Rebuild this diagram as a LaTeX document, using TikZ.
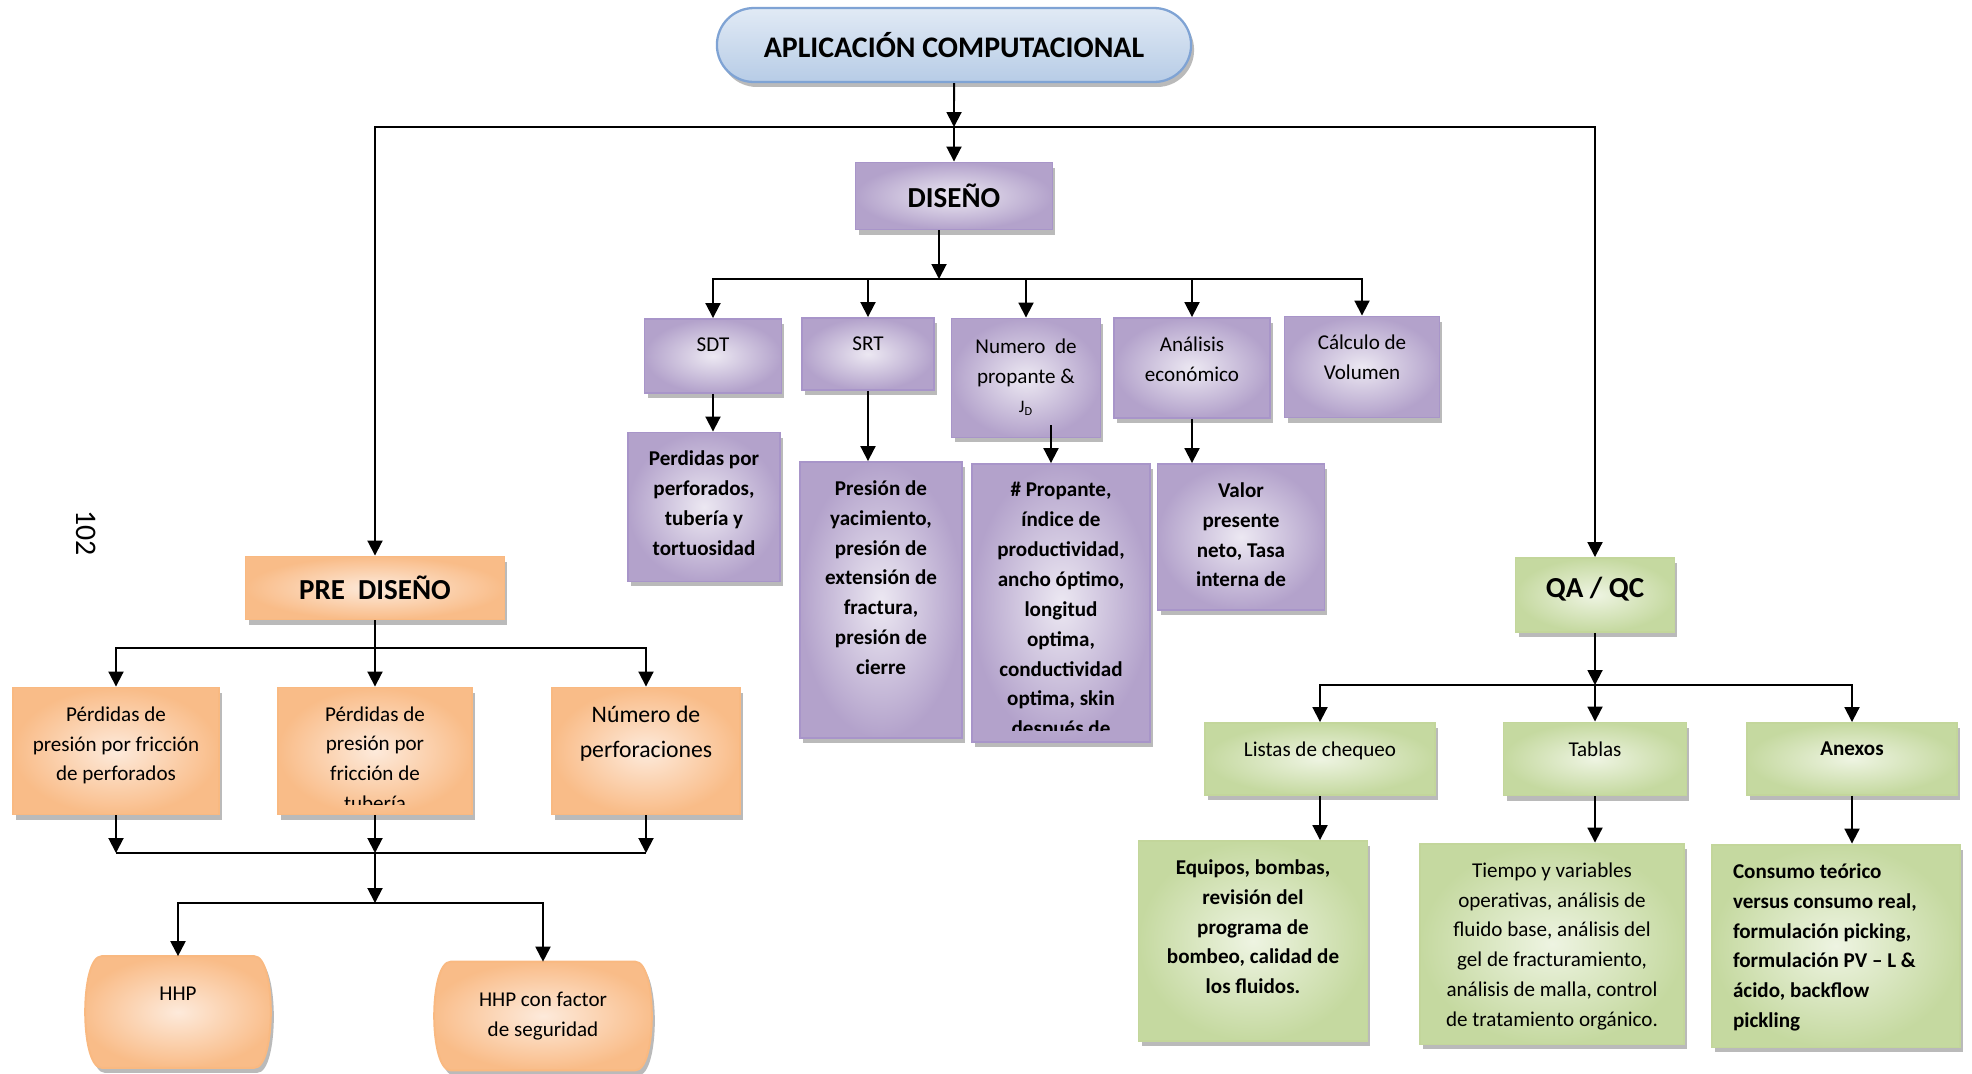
\documentclass[tikz,border=0pt]{standalone}
\usepackage{fontspec}
\setmainfont{Carlito}
\usepackage{tikz}
\usetikzlibrary{arrows.meta,positioning,shadows,shapes.misc,backgrounds}

\definecolor{pdark}{HTML}{B3A2CB}
\definecolor{plight}{HTML}{ECE8F2}
\definecolor{pline}{HTML}{A895C9}
\definecolor{odark}{HTML}{F9BC88}
\definecolor{olight}{HTML}{FDEADB}
\definecolor{oline}{HTML}{F9B981}
\definecolor{gdark}{HTML}{C5D9A0}
\definecolor{glight}{HTML}{EEF4E2}
\definecolor{gline}{HTML}{C3D69B}
\definecolor{bdark}{HTML}{B7CCE6}
\definecolor{blight}{HTML}{E1EAF5}
\definecolor{bline}{HTML}{7FA3D4}

% text block of fixed size, set from the top
\newcommand{\boxtext}[4][0.37cm]{\parbox[c][#3][t]{#2}{\centering\vspace*{#1}#4}}

\begin{document}
\begin{tikzpicture}[x=0.02cm, y=-0.02cm,
    box/.style={rectangle, inner sep=0pt, line width=1.1pt, drop shadow={shadow xshift=0.06cm, shadow yshift=-0.1cm, fill=black!45, opacity=.6}},
    pbox/.style={box, draw=pline, inner color=plight, outer color=pdark},
    obox/.style={box, draw=oline, inner color=olight, outer color=odark},
    gbox/.style={box, draw=gline, inner color=glight, outer color=gdark},
    hhpbox/.style={rectangle, inner sep=0pt},
    txt/.style={font=\fontsize{12}{17}\selectfont},
    txtb/.style={font=\fontsize{12}{17}\selectfont\bfseries},
    head/.style={font=\fontsize{16.5}{20}\selectfont\bfseries},
    arr/.style={-{Triangle[length=0.3cm,width=0.3cm]}, line width=1.1pt},
    ln/.style={line width=1.1pt},
  ]
    \useasboundingbox (0,0) rectangle (1972,1073);

    % Page number
    \node[font=\fontsize{17}{20}\selectfont, rotate=-90] (pnum) at (86,533) {102};

    % Top
    \node[rounded rectangle, draw=bline, line width=1.3pt, top color=blight, bottom color=bdark, minimum width=9.72cm, minimum height=1.48cm, drop shadow={shadow xshift=0.06cm, shadow yshift=-0.1cm, fill=black!45, opacity=.6}, head, font=\fontsize{17}{20}\selectfont\bfseries] (app) at (954,45) {APLICACIÓN COMPUTACIONAL};
    \node[pbox, head, minimum width=3.94cm, minimum height=1.34cm] (dis) at (954,196) {DISEÑO};
    \node[obox, head, minimum width=5.18cm, minimum height=1.26cm] (pre) at (375,588) {PRE\ \ DISEÑO};
    \node[gbox, head, minimum width=3.18cm, minimum height=1.48cm, text depth=0.3cm] (qa) at (1595,595) {QA / QC};

    % Design row
    \node[pbox, txt] (sdt) at (713,356) {\boxtext{2.74cm}{1.48cm}{SDT}};
    \node[pbox, txt] (srt) at (868,354) {\boxtext{2.64cm}{1.44cm}{SRT}};
    \node[pbox, txt] (num) at (1026,378) {\boxtext[0.40cm]{2.98cm}{2.38cm}{Numero\ \ de\\propante \&\\{\fontsize{10}{12}\selectfont J\textsubscript{D}}}};
    \node[pbox, txt] (ana) at (1192,368) {\boxtext{3.12cm}{2.00cm}{Análisis\\económico}};
    \node[pbox, txt] (cal) at (1362,367) {\boxtext{3.10cm}{2.02cm}{Cálculo de\\Volumen}};

    % Design results
    \node[pbox, txtb] (perd) at (704,507) {\boxtext{3.04cm}{2.98cm}{Perdidas por\\perforados,\\tubería y\\tortuosidad}};
    \node[pbox, txtb] (pres) at (881,600) {\boxtext{3.24cm}{5.52cm}{Presión de\\yacimiento,\\presión de\\extensión de\\fractura,\\presión de\\cierre}};
    \node[pbox, minimum width=3.56cm, minimum height=5.56cm] (prop) at (1061,603) {};
    \begin{scope}
      \clip ([yshift=0.25cm]prop.south west) rectangle (prop.north east);
      \node[txtb, anchor=north, align=flush center, text width=3.4cm, inner sep=0pt] (proptxt) at ([yshift=-0.38cm]prop.north) {\# Propante,\\índice de\\productividad,\\ancho óptimo,\\longitud\\optima,\\conductividad\\optima, skin\\después de};
    \end{scope}
    \node[pbox, txtb] (val) at (1241,537) {\boxtext{3.34cm}{2.92cm}{Valor\\presente\\neto, Tasa\\interna de}};

    % Pre design row
    \node[obox, txt] (o1) at (116,751) {\boxtext[0.38cm]{4.12cm}{2.54cm}{Pérdidas de\\presión por fricción\\de perforados}};
    \node[obox, minimum width=3.88cm, minimum height=2.54cm] (o2) at (375,751) {};
    \begin{scope}
      \clip ([yshift=0.22cm]o2.south west) rectangle (o2.north east);
      \node[txt, anchor=north, align=flush center, text width=3.7cm, inner sep=0pt] (o2txt) at ([yshift=-0.39cm]o2.north) {Pérdidas de\\presión por\\fricción de\\tubería};
    \end{scope}
    \node[obox, font=\fontsize{13.5}{19.5}\selectfont] (o3) at (646,751) {\boxtext[0.38cm]{3.76cm}{2.54cm}{Número de\\perforaciones}};

    \node[hhpbox, txt] (hhp) at (178,1012) {\boxtext[0.61cm]{3.04cm}{2.22cm}{HHP}};
    \node[hhpbox, txt] (hhpf) at (543,1016) {\boxtext[0.61cm]{3.68cm}{2.16cm}{HHP con factor\\de seguridad}};
    \begin{scope}[on background layer]
      \foreach \n in {hhp,hhpf}
        \path[obox] (\n.north west) -- (\n.north east) .. controls +(22,0) and +(22,0) .. (\n.south east) -- (\n.south west) .. controls +(-22,0) and +(-22,0) .. (\n.north west) -- cycle;
    \end{scope}

    % QA / QC row
    \node[gbox, txt] (lis) at (1320,759) {\boxtext[0.38cm]{4.60cm}{1.44cm}{Listas de chequeo}};
    \node[gbox, txt] (tab) at (1595,759) {\boxtext[0.38cm]{3.66cm}{1.46cm}{Tablas}};
    \node[gbox, txtb] (anx) at (1852,759) {\boxtext[0.38cm]{4.20cm}{1.44cm}{Anexos}};
    \node[gbox, txtb] (equ) at (1253,941) {\boxtext{4.58cm}{4.00cm}{Equipos, bombas,\\revisión del\\programa de\\bombeo, calidad de\\los fluidos.}};
    \node[gbox, txt] (tie) at (1552,944) {\boxtext[0.38cm]{5.28cm}{4.02cm}{Tiempo y variables\\operativas, análisis de\\fluido base, análisis del\\gel de fracturamiento,\\análisis de malla, control\\de tratamiento orgánico.}};
    \node[gbox, txtb] (con) at (1836,946) {\boxtext[0.38cm]{4.96cm}{4.06cm}{\raggedright\leftskip=0.42cm Consumo teórico\\versus consumo real,\\formulación picking,\\formulación PV – L \&\\ácido, backflow\\pickling}};

    % Junctions
    \coordinate (j1) at (954,127);
    \coordinate (j2) at (939,279);
    \coordinate (j3) at (375,648);
    \coordinate (j4) at (375,853);
    \coordinate (j5) at (375,903);
    \coordinate (j6) at (1595,685);

    % Connectors
    \draw[arr] (app) -- (j1);
    \draw[arr] (j1) -- (dis);
    \draw[arr] (j1) -| (pre);
    \draw[arr] (j1) -| (qa);

    \draw[arr] (dis.south -| j2) -- (j2);
    \foreach \n in {sdt,srt,num,ana,cal}
      \draw[arr] (j2) -| (\n);
    \draw[arr] (sdt) -- (sdt |- perd.north);
    \draw[arr] (srt) -- (srt |- pres.north);
    \coordinate (numout) at ([xshift=0.5cm,yshift=0.26cm]num.south);
    \draw[arr] (numout) -- (numout |- prop.north);
    \draw[arr] (ana) -- (ana |- val.north);

    \draw[ln] (pre) -- (j3);
    \foreach \n in {o1,o2,o3} {
      \draw[arr] (j3) -| (\n);
      \draw[arr] (\n) -- (\n |- j4);
    }
    \draw[ln] (o1 |- j4) -- (o3 |- j4);
    \draw[arr] (j4) -- (j5);
    \draw[arr] (j5) -| (hhp);
    \draw[arr] (j5) -| (hhpf);

    \draw[arr] (qa) -- (j6);
    \foreach \n in {lis,tab,anx}
      \draw[arr] (j6) -| (\n);
    \draw[arr] (lis) -- (lis |- equ.north);
    \draw[arr] (tab) -- (tab |- tie.north);
    \draw[arr] (anx) -- (anx |- con.north);

  \end{tikzpicture}
\end{document}
